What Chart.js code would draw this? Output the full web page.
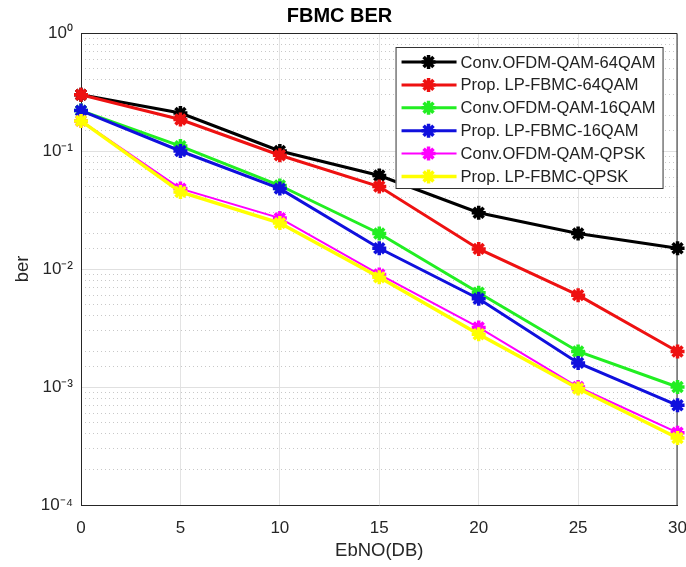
<!DOCTYPE html>
<html>
<head>
<meta charset="utf-8">
<script src="https://cdn.jsdelivr.net/npm/chart.js@4.4.0/dist/chart.umd.min.js"></script>
<style>
  html, body { margin: 0; padding: 0; background: #fff; overflow: hidden; }
  #wrap { width: 700px; height: 567px; }
</style>
</head>
<body>
<div id="wrap"><canvas id="ber" width="700" height="567"></canvas></div>
<script>
// EbNO (dB) and BER per scheme
var ebno = [0, 5, 10, 15, 20, 25, 30];
var ofdm64 = [0.30, 0.21, 0.100, 0.062, 0.030, 0.020, 0.015];
var fbmc64 = [0.30, 0.185, 0.092, 0.050, 0.0148, 0.0060, 0.0020];
var ofdm16 = [0.22, 0.11, 0.051, 0.020, 0.0063, 0.0020, 0.0010];
var fbmc16 = [0.22, 0.10, 0.048, 0.015, 0.0056, 0.0016, 0.0007];
var ofdmQpsk = [0.18, 0.048, 0.027, 0.0090, 0.0032, 0.0010, 0.00041];
var fbmcQpsk = [0.18, 0.045, 0.0245, 0.0085, 0.0028, 0.00097, 0.00037];

var names = ['Conv.OFDM-QAM-64QAM', 'Prop. LP-FBMC-64QAM', 'Conv.OFDM-QAM-16QAM',
             'Prop. LP-FBMC-16QAM', 'Conv.OFDM-QAM-QPSK', 'Prop. LP-FBMC-QPSK'];
var colors = ['#000000', '#ee1111', '#22ee22', '#1010dd', '#ff00ff', '#ffff00'];
var widths = [3, 3, 3, 3, 2, 3.5];
var series = [ofdm64, fbmc64, ofdm16, fbmc16, ofdmQpsk, fbmcQpsk];

var xTicks = [0, 5, 10, 15, 20, 25, 30];
var yDecades = [1e-4, 1e-3, 1e-2, 1e-1, 1];
var yDecadeText = ['10\u207B\u2074', '10\u207B\u00B3', '10\u207B\u00B2', '10\u207B\u00B9', '10\u2070'];

var FONT = '"Liberation Sans", Arial, sans-serif';

function isDecade(v) {
  var l = Math.log10(v);
  return Math.abs(l - Math.round(l)) < 1e-9;
}

var datasets = series.map(function (s, i) {
  return {
    label: names[i],
    data: s.map(function (v, j) { return { x: ebno[j], y: v }; }),
    borderColor: colors[i],
    backgroundColor: colors[i],
    borderWidth: widths[i],
    pointStyle: 'star',
    pointRadius: 7,
    pointBorderWidth: 3.5,
    pointBackgroundColor: colors[i],
    pointBorderColor: colors[i],
    tension: 0,
    clip: 12,
    order: series.length - i
  };
});

// top + right edges of the axes box
var boxPlugin = {
  id: 'box',
  beforeDatasetsDraw: function (chart) {
    var a = chart.chartArea, ctx = chart.ctx;
    ctx.save();
    ctx.strokeStyle = '#262626';
    ctx.lineWidth = 1;
    ctx.beginPath();
    ctx.moveTo(a.left, a.top + 0.5);
    ctx.lineTo(a.right - 0.5, a.top + 0.5);
    ctx.lineTo(a.right - 0.5, a.bottom);
    ctx.stroke();
    ctx.restore();
  }
};

// legend box inside the plot, top right
var legendBox = {
  id: 'legendBox',
  afterDatasetsDraw: function (chart) {
    var a = chart.chartArea, ctx = chart.ctx;
    var w = 267, h = 141;
    var x0 = a.right - 15 - w, y0 = a.top + 14;
    ctx.save();
    ctx.fillStyle = '#fff';
    ctx.fillRect(x0, y0, w, h);
    ctx.strokeStyle = '#333';
    ctx.lineWidth = 1;
    ctx.strokeRect(x0 + 0.5, y0 + 0.5, w, h);
    ctx.font = '16.5px ' + FONT;
    ctx.textBaseline = 'middle';
    chart.data.datasets.forEach(function (ds, i) {
      var y = y0 + 15 + i * 22.9;
      ctx.strokeStyle = ds.borderColor;
      ctx.lineWidth = ds.borderWidth;
      ctx.beginPath();
      ctx.moveTo(x0 + 6, y);
      ctx.lineTo(x0 + 61, y);
      ctx.stroke();
      ctx.lineWidth = 3.5;
      Chart.helpers.drawPoint(ctx, {
        pointStyle: 'star', radius: 7, borderWidth: 3.5, rotation: 0
      }, x0 + 33, y);
      ctx.fillStyle = '#222';
      ctx.fillText(ds.label, x0 + 65, y + 1);
    });
    ctx.restore();
  }
};

new Chart(document.getElementById('ber'), {
  type: 'line',
  data: { datasets: datasets },
  plugins: [boxPlugin, legendBox],
  options: {
    responsive: false,
    animation: false,
    layout: { padding: { left: 0, right: 21, top: 0, bottom: 0 } },
    plugins: {
      legend: { display: false },
      tooltip: { enabled: false },
      title: {
        display: true,
        text: 'FBMC BER',
        color: '#000',
        font: { family: FONT, size: 20, weight: 'bold', lineHeight: 1.2 },
        padding: { top: 4, bottom: 5 }
      }
    },
    scales: {
      x: {
        type: 'linear',
        min: xTicks[0],
        max: xTicks[xTicks.length - 1],
        afterBuildTicks: function (s) {
          s.ticks = xTicks.map(function (v) { return { value: v }; });
        },
        afterFit: function (s) { s.height = 62; },
        ticks: {
          color: '#262626',
          font: { family: FONT, size: 17 },
          padding: 13,
          maxRotation: 0
        },
        grid: { color: '#e3e3e3', lineWidth: 1, drawTicks: false },
        border: { color: '#262626', width: 1 },
        title: {
          display: true,
          text: 'EbNO(DB)',
          color: '#262626',
          font: { family: FONT, size: 18.5 },
          padding: { top: 0, bottom: 5 }
        }
      },
      y: {
        type: 'logarithmic',
        position: 'left',
        min: yDecades[0],
        max: yDecades[yDecades.length - 1],
        afterFit: function (s) { s.width = 81; },
        ticks: {
          autoSkip: false,
          color: '#262626',
          font: { family: FONT, size: 17 },
          padding: 8,
          callback: function (v) {
            var k = yDecades.findIndex(function (d) { return Math.abs(d - v) / d < 1e-6; });
            return k >= 0 ? yDecadeText[k] : '';
          }
        },
        grid: {
          drawTicks: false,
          color: function (c) {
            return c.tick && isDecade(c.tick.value) ? '#e0e0e0' : 'rgba(0,0,0,0)';
          }
        },
        border: { color: '#262626', width: 1 },
        title: {
          display: true,
          text: 'ber',
          color: '#262626',
          font: { family: FONT, size: 18.5 },
          padding: { top: 12, bottom: 0 }
        }
      },
      yMinor: {
        type: 'logarithmic',
        position: 'left',
        min: yDecades[0],
        max: yDecades[yDecades.length - 1],
        afterFit: function (s) { s.width = 0; },
        ticks: { display: false, autoSkip: false },
        grid: {
          drawTicks: false,
          lineWidth: 1,
          color: function (c) {
            return c.tick && !isDecade(c.tick.value) ? '#c8c8c8' : 'rgba(0,0,0,0)';
          }
        },
        border: { display: false, dash: [1, 3] }
      }
    }
  }
});
</script>
</body>
</html>
